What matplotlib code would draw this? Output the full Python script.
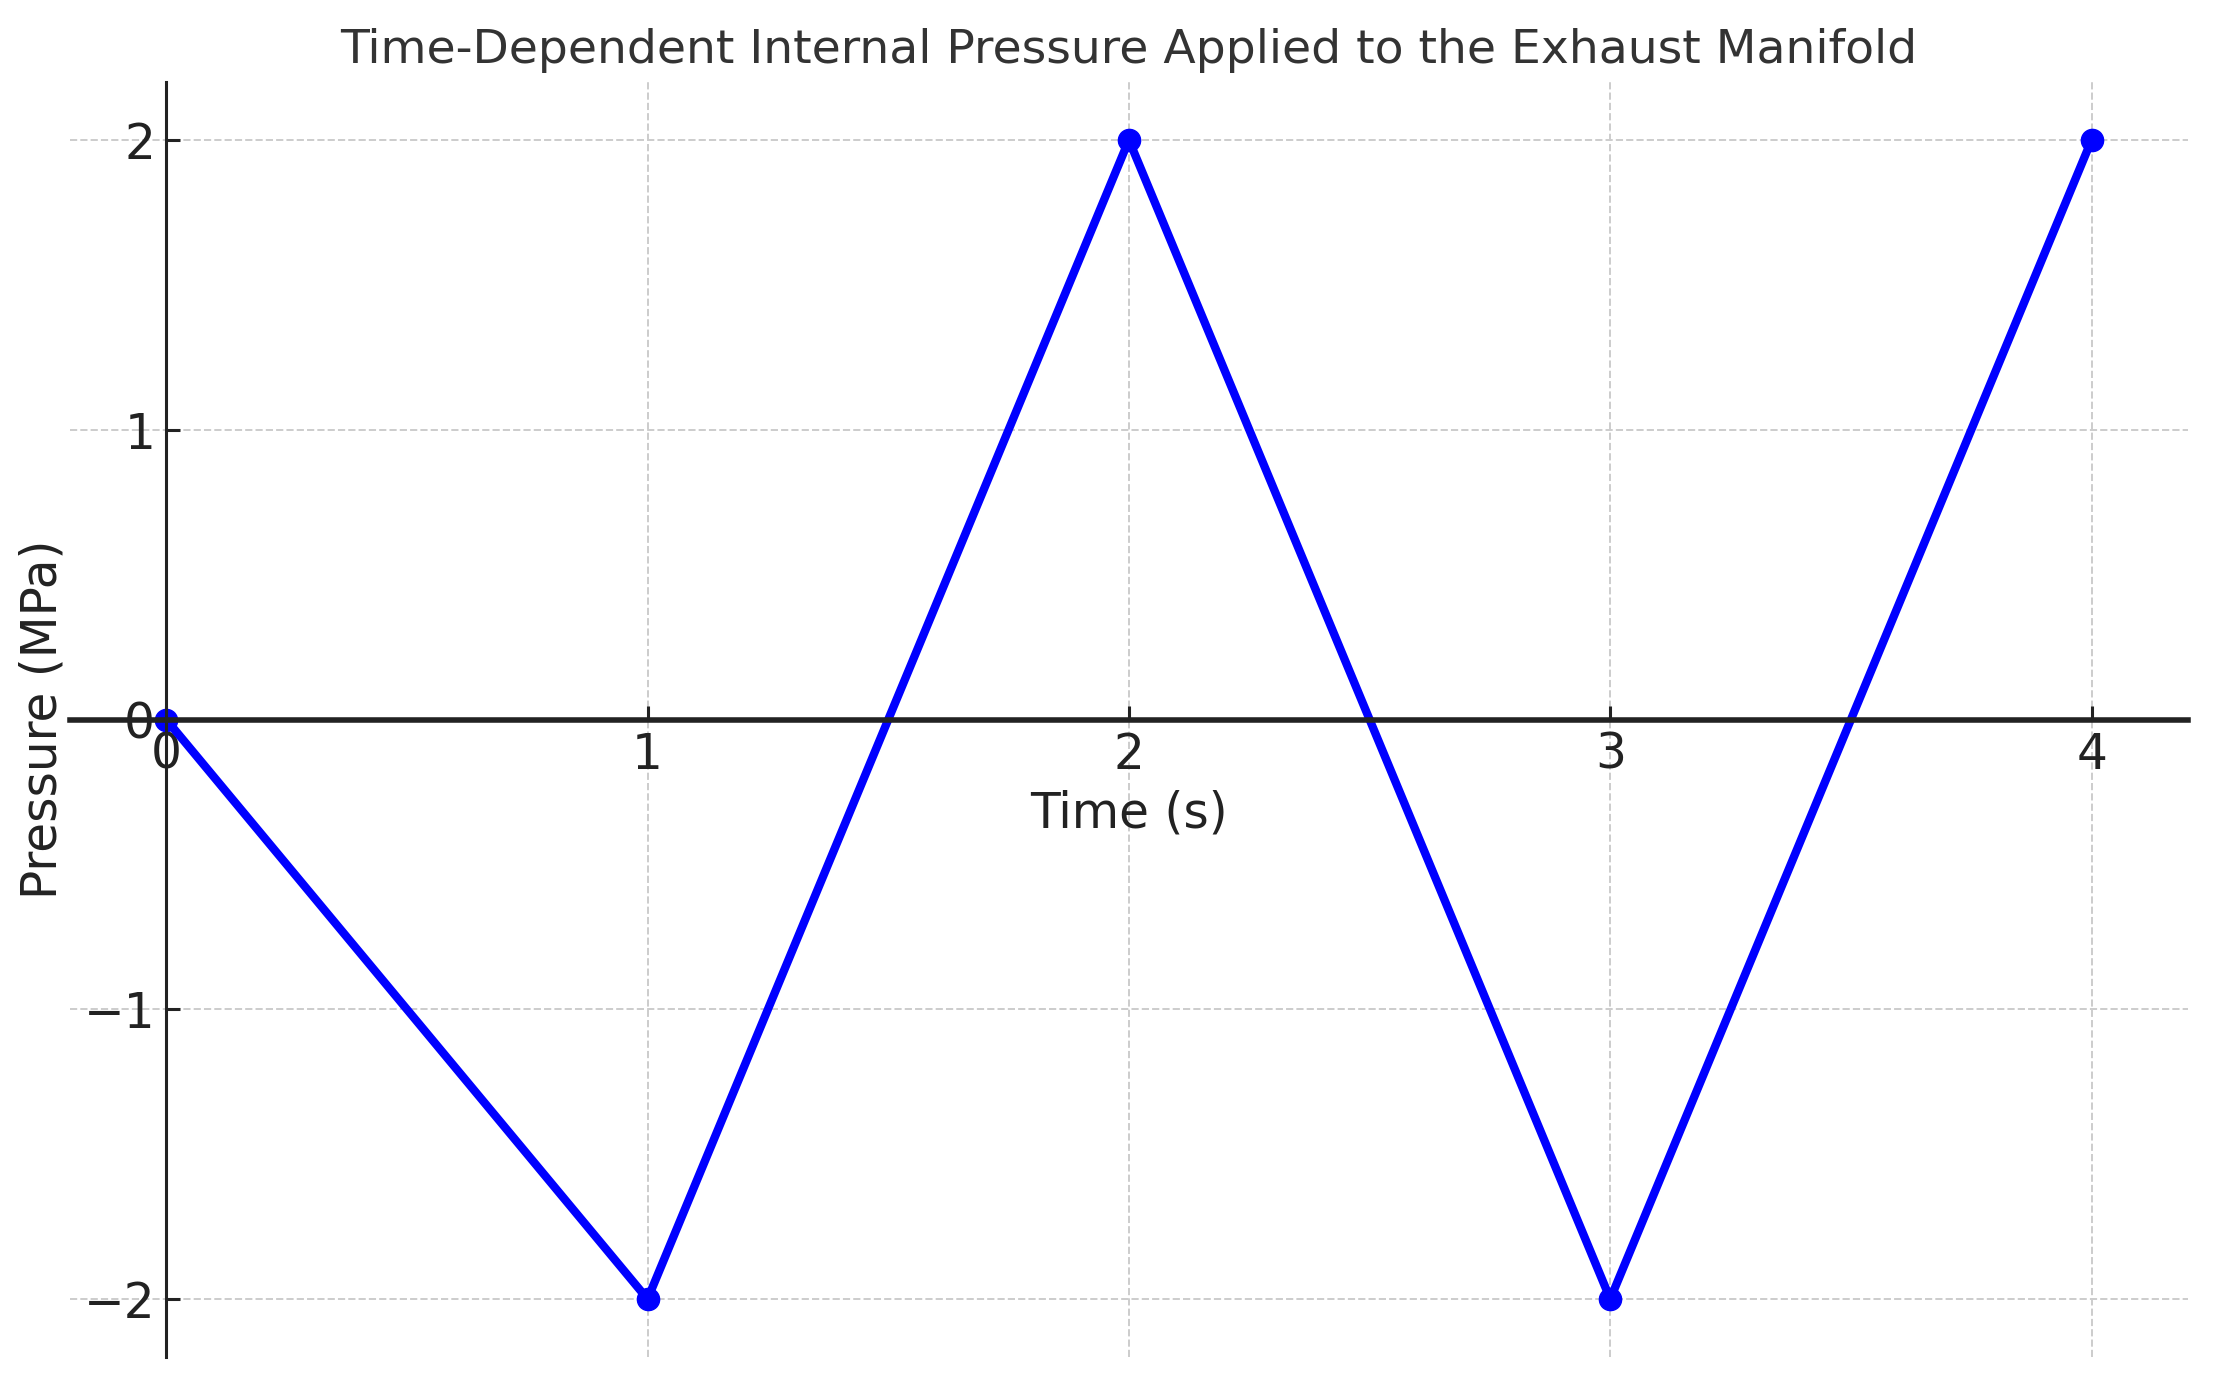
import matplotlib
matplotlib.use("Agg")
import matplotlib.pyplot as plt

# Pressure pulse data
time_s = [0, 1, 2, 3, 4]
pressure_mpa = [0, -2, 2, -2, 2]
x_ticks = [0, 1, 2, 3, 4]
y_ticks = [-2, -1, 0, 1, 2]

fig = plt.figure(figsize=(22.28, 13.86), dpi=100)
ax = fig.add_axes([0.0314, 0.0209, 0.9506, 0.9199])

ax.plot(time_s, pressure_mpa, color="blue", lw=6, marker="o", markersize=16)

# spines through the origin
ax.spines["left"].set_position("zero")
ax.spines["bottom"].set_position("zero")
ax.spines["right"].set_visible(False)
ax.spines["top"].set_visible(False)
ax.spines["left"].set_linewidth(2.2)
ax.spines["bottom"].set_linewidth(4)
ax.spines["left"].set_color("#222222")
ax.spines["bottom"].set_color("#222222")

ax.set_xticks(x_ticks)
ax.set_yticks(y_ticks)
ax.tick_params(direction="in", length=10, width=2.2, labelsize=35,
               colors="#222222", pad=8)
ax.set_xlim(-0.2, 4.2)
ax.set_ylim(-2.2, 2.2)

ax.grid(True, linestyle="--", color="#cccccc", linewidth=1.4)

ax.set_xlabel("Time (s)", fontsize=35, color="#222222", labelpad=8)
ax.set_ylabel("Pressure (MPa)", fontsize=35, color="#222222", labelpad=12)
ax.set_title("Time-Dependent Internal Pressure Applied to the Exhaust Manifold",
             fontsize=34, color="#333333", pad=14)

fig.savefig("out.png", dpi=100)
